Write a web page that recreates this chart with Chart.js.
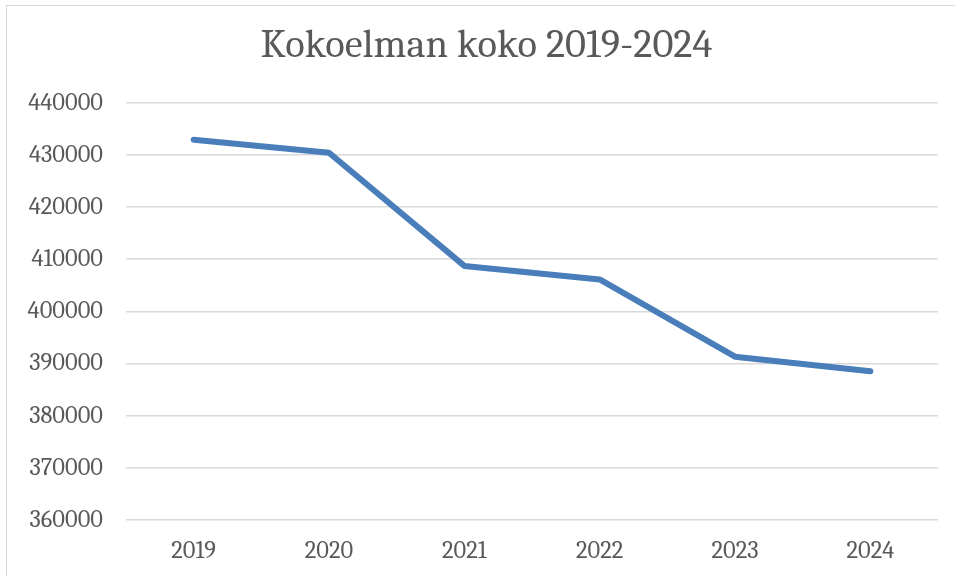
<!DOCTYPE html>
<html>
<head>
<meta charset="utf-8">
<script src="https://cdn.jsdelivr.net/npm/chart.js@4"></script>
<style>
  html, body { margin: 0; padding: 0; background: #fff; overflow: hidden; }
  #kehys { position: absolute; left: 6px; top: 5px; width: 1000px; height: 620px; border: 1.5px solid #d9d9d9; }
  #alue { position: absolute; left: 0; top: 0; width: 955px; height: 576px; }
</style>
</head>
<body>
<div id="kehys"></div>
<div id="alue"><canvas id="kaavio" width="955" height="576"></canvas></div>
<script>
const vuodet = ['2019', '2020', '2021', '2022', '2023', '2024'];
const kokoelma = [432900, 430400, 408700, 406100, 391300, 388500];
const otsikko = 'Kokoelman koko 2019-2024';

const fontti = 'Cambria, "DejaVu Serif", serif';
const harmaa = '#595959';

// otsikko hieman oikealle, kuten alkuperäisessä
const otsikonSiirto = {
  id: 'otsikonSiirto',
  afterLayout(chart) {
    if (chart.titleBlock) chart.titleBlock.left += 13;
  }
};

const config = {
  type: 'line',
  data: {
    labels: vuodet,
    datasets: [{
      label: 'Kokoelma',
      data: kokoelma,
      borderColor: '#4a7ebb',
      backgroundColor: '#4a7ebb',
      borderWidth: 6,
      borderCapStyle: 'round',
      borderJoinStyle: 'round',
      pointRadius: 0,
      tension: 0
    }]
  },
  options: {
    responsive: false,
    animation: false,
    layout: { padding: { left: 22, right: 17, top: 21, bottom: 0 } },
    plugins: {
      legend: { display: false },
      tooltip: { enabled: false },
      title: {
        display: true,
        text: otsikko,
        color: harmaa,
        font: { family: fontti, size: 40.5, weight: 'normal' },
        padding: { top: 0, bottom: 33 }
      }
    },
    scales: {
      y: {
        min: 360000,
        max: 440000,
        afterFit: (s) => { s.width = 104; },
        ticks: {
          stepSize: 10000,
          color: harmaa,
          padding: 23,
          font: { family: fontti, size: 24.5 },
          callback: (v) => String(v)
        },
        grid: { color: '#d9d9d9', lineWidth: 1.5, drawTicks: false },
        border: { display: false }
      },
      x: {
        offset: true,
        afterFit: (s) => { s.height = 56; },
        ticks: {
          color: harmaa,
          padding: 16,
          maxRotation: 0,
          font: { family: fontti, size: 24.5 }
        },
        grid: { display: false, drawTicks: false, offset: true },
        border: { display: false }
      }
    }
  },
  plugins: [otsikonSiirto]
};

const ctx = document.getElementById('kaavio').getContext('2d');
new Chart(ctx, config);
</script>
</body>
</html>
